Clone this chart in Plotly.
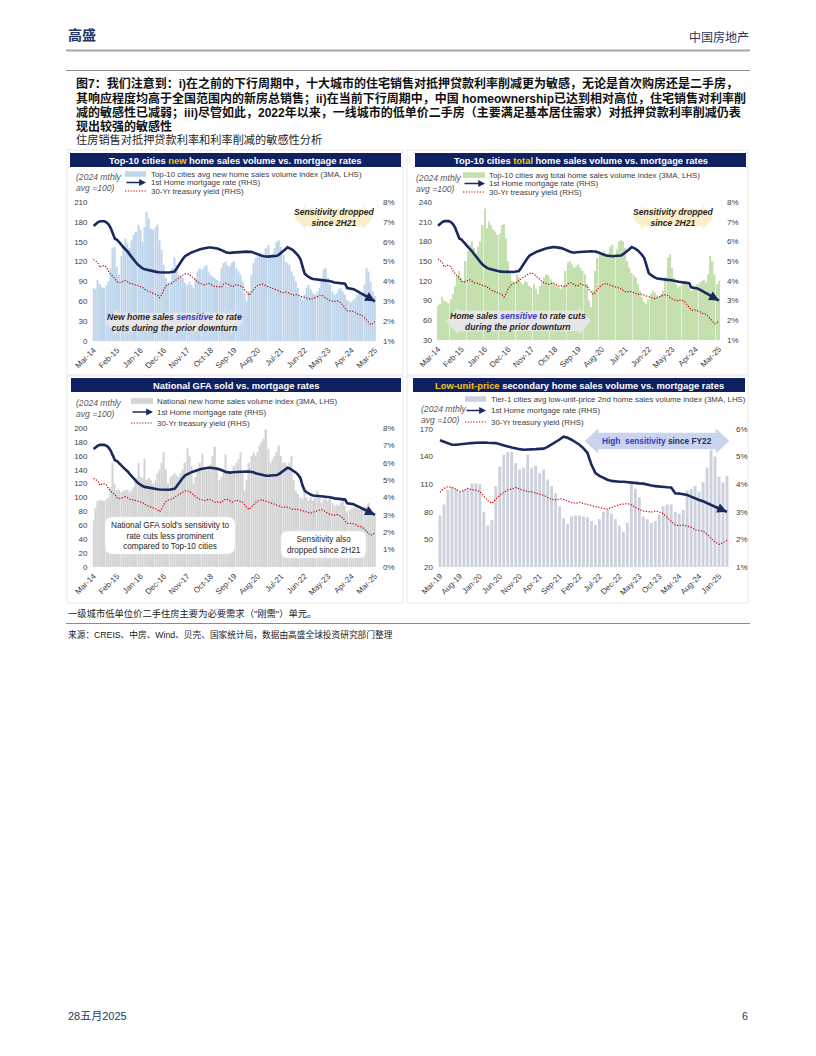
import plotly.graph_objects as go
import pandas as pd

# ---------------- DATA ----------------
months = pd.date_range("2014-03-01", "2025-03-01", freq="MS").strftime("%b-%y").tolist()  # Mar-14 .. Mar-25
lp_start = months.index("Mar-19")
months_lp = months[lp_start:]

tick_main = ["Mar-14", "Feb-15", "Jan-16", "Dec-16", "Nov-17", "Oct-18", "Sep-19",
             "Aug-20", "Jul-21", "Jun-22", "May-23", "Apr-24", "Mar-25"]
tick_lp = ["Mar-19", "Aug-19", "Jan-20", "Jun-20", "Nov-20", "Apr-21", "Sep-21", "Feb-22",
           "Jul-22", "Dec-22", "May-23", "Oct-23", "Mar-24", "Aug-24", "Jan-25"]

# 1st home mortgage rate (%), monthly Mar-14 .. Mar-25
mortgage_rate = [
    6.79, 6.90, 6.98, 7.03, 7.04, 7.03, 6.98, 6.88, 6.70, 6.45,
    6.15, 6.10, 6.00, 5.85, 5.72, 5.62, 5.50, 5.35, 5.20, 5.05, 4.94, 4.82,
    4.73, 4.66, 4.61, 4.58, 4.55, 4.52, 4.50, 4.48, 4.47, 4.46, 4.45, 4.44,
    4.44, 4.45, 4.46, 4.48, 4.50, 4.65, 4.83, 5.00, 5.15, 5.28, 5.35, 5.42,
    5.46, 5.50, 5.55, 5.59, 5.62, 5.65, 5.68, 5.70, 5.71, 5.71, 5.70, 5.69,
    5.66, 5.62, 5.59, 5.53, 5.47, 5.43, 5.43, 5.45, 5.46, 5.47, 5.49, 5.50,
    5.51, 5.51, 5.50, 5.49, 5.49, 5.45, 5.40, 5.37, 5.33, 5.29, 5.27, 5.25,
    5.25, 5.26, 5.27, 5.28, 5.29, 5.35, 5.43, 5.51, 5.62, 5.72, 5.68, 5.61,
    5.53, 5.43, 5.30, 5.13, 4.70, 4.40, 4.30, 4.22, 4.16, 4.12, 4.10, 4.09,
    4.09, 4.07, 4.05, 4.04, 4.03, 4.02, 3.98, 3.95, 3.93, 3.91, 3.90, 3.89,
    3.88, 3.67, 3.66, 3.63, 3.61, 3.55, 3.48, 3.43, 3.38, 3.31, 3.25, 3.18,
    3.11, 3.05, 3.00,
]

# 30-Yr treasury yield (%), monthly Mar-14 .. Mar-25
treasury_30y = [
    5.11, 5.02, 4.94, 4.70, 4.80, 4.78, 4.73, 4.50, 4.36, 4.25,
    4.15, 3.98, 3.94, 3.95, 4.02, 4.05, 3.98, 3.90, 3.89, 3.85, 3.82, 3.78,
    3.77, 3.70, 3.60, 3.52, 3.48, 3.45, 3.40, 3.35, 3.30, 3.18, 3.35, 3.60,
    3.77, 3.85, 3.89, 3.92, 4.02, 4.10, 4.18, 4.27, 4.32, 4.38, 4.39, 4.35,
    4.25, 4.15, 4.02, 3.95, 3.90, 3.85, 3.82, 3.86, 3.90, 3.85, 3.78, 3.72,
    3.75, 3.72, 3.71, 3.85, 3.91, 3.88, 3.82, 3.73, 3.77, 3.85, 3.80, 3.78,
    3.73, 3.55, 3.40, 3.31, 3.45, 3.60, 3.70, 3.79, 3.83, 3.88, 3.82, 3.78,
    3.73, 3.72, 3.68, 3.64, 3.60, 3.52, 3.45, 3.43, 3.47, 3.45, 3.40, 3.33,
    3.31, 3.34, 3.30, 3.26, 3.22, 3.18, 3.15, 3.12, 3.10, 3.15, 3.20, 3.26,
    3.28, 3.30, 3.25, 3.15, 3.08, 3.03, 3.00, 2.99, 3.03, 3.00, 2.93, 2.80,
    2.68, 2.52, 2.50, 2.52, 2.48, 2.44, 2.35, 2.33, 2.30, 2.18, 2.05, 1.90,
    1.82, 1.88, 1.97,
]

# Top-10 cities avg new home sales volume index (3MA, 2024 mthly avg = 100)
top10_new = [
    80, 78, 92, 86, 82, 80, 84, 90, 110, 140,
    142, 112, 100, 128, 145, 155, 148, 140, 152, 160, 165, 175,
    168, 150, 172, 195, 185, 170, 168, 172, 176, 152, 138, 115,
    95, 88, 90, 110, 126, 115, 100, 98, 95, 88, 85, 90,
    85, 80, 95, 105, 110, 108, 112, 115, 105, 100, 98, 95,
    92, 90, 110, 118, 120, 115, 112, 118, 120, 110, 105, 100,
    90, 72, 60, 75, 100, 118, 125, 128, 132, 128, 130, 140,
    145, 128, 132, 140, 150, 152, 142, 130, 120, 118, 115, 105,
    98, 90, 80, 68, 62, 70, 80, 85, 78, 72, 70, 75,
    80, 90, 108, 110, 95, 85, 75, 70, 72, 78, 80, 75,
    70, 62, 60, 58, 62, 65, 70, 72, 70, 85, 110, 105,
    90, 75, 68,
]

# Top-10 cities avg total home sales volume index (3MA)
top10_total = [
    82, 85, 96, 90, 88, 86, 92, 100, 112, 128,
    135, 125, 120, 150, 165, 175, 180, 170, 162, 172, 180, 205,
    230, 200, 210, 205, 198, 195, 190, 192, 205, 207, 185, 150,
    135, 120, 118, 130, 125, 118, 115, 120, 118, 112, 110, 115,
    108, 100, 112, 118, 125, 130, 128, 122, 118, 115, 112, 110,
    108, 112, 135, 148, 150, 145, 140, 142, 145, 140, 135, 130,
    115, 90, 80, 105, 135, 155, 160, 162, 165, 160, 162, 172,
    175, 160, 168, 180, 182, 180, 170, 150, 140, 132, 128, 125,
    115, 105, 95, 88, 85, 92, 100, 105, 102, 98, 95, 100,
    105, 125, 155, 160, 140, 125, 115, 110, 112, 118, 120, 118,
    112, 105, 108, 110, 115, 118, 120, 122, 118, 130, 158, 150,
    130, 115, 120,
]

# National new home sales volume index (3MA)
national_gfa = [
    67, 85, 95, 96, 96, 95, 98, 100, 115, 150,
    120, 110, 112, 108, 110, 110, 112, 108, 110, 115, 128, 150,
    130, 128, 156, 125, 128, 125, 120, 125, 135, 140, 150, 165,
    140, 120, 130, 132, 135, 132, 130, 135, 140, 150, 171, 160,
    145, 120, 130, 140, 150, 163, 140, 138, 145, 148, 160, 173,
    145, 125, 130, 138, 162, 140, 135, 138, 145, 150, 155, 165,
    135, 110, 125, 150, 160, 165, 160, 165, 175, 180, 185, 198,
    170, 150, 155, 160, 165, 175, 160, 150, 150, 140, 150, 160,
    125, 110, 105, 100, 98, 110, 100, 95, 100, 95, 100, 110,
    100, 92, 98, 100, 95, 98, 92, 88, 90, 88, 92, 96,
    88, 80, 82, 84, 85, 88, 84, 82, 85, 86, 88, 92,
    85, 80, 78,
]

# Tier-1 cities avg low-unit-price 2nd home sales volume index (3MA), Mar-19 .. Mar-25
tier1_lowprice = [
    76, 88, 104, 107, 105, 102, 104, 106, 111, 111, 110, 80, 65, 71,
    108, 129, 142, 145, 145, 133, 126, 128, 142, 128, 130, 122, 126, 115,
    108, 100, 86, 73, 67, 75, 76, 76, 75, 74, 70, 66, 72, 80,
    82, 78, 72, 65, 58, 68, 113, 105, 96, 75, 72, 68, 70, 77,
    86, 88, 88, 80, 78, 82, 103, 105, 108, 102, 112, 128, 147, 140,
    118, 112, 119,
]

# ---------------- STYLE ----------------
W, H = 816, 1056
FONT = "Liberation Sans, Arial, Noto Sans CJK SC, sans-serif"
CJK = "Liberation Sans, Noto Sans CJK SC, sans-serif"
NAVY = "#1B2A5E"
HEAD = "#1F3864"
TITLE_BG = "#0F2160"
GOLD = "#F5C518"
RED = "#C00000"
TICK = "#404040"
DOT = "1.2px,1.6px"
BAR_COLORS = {"new": "#BED5EC", "total": "#C4E0AE", "gfa": "#D4D4D4", "lp": "#CCD1DC"}


def X(x):
    return x / W


def Y(y):
    return 1 - y / H


def P(x, y):
    return f"{X(x):.5f},{Y(y):.5f}"


def txt(x, y, text, size=8, color=TICK, xanchor="left", yanchor="middle", family=FONT, align="left"):
    return dict(x=X(x), y=Y(y), xref="paper", yref="paper", text=text, showarrow=False,
                font=dict(size=size, color=color, family=family), xanchor=xanchor,
                yanchor=yanchor, align=align, borderpad=0)


def rect(x0, y0, x1, y1, fill, line_color=None, lw=0):
    return dict(type="rect", xref="paper", yref="paper", x0=X(x0), x1=X(x1), y0=Y(y0), y1=Y(y1),
                fillcolor=fill, line=dict(color=line_color or fill, width=lw), layer="above")


def hline(x0, x1, y, color, width=1, dash="solid"):
    return dict(type="line", xref="paper", yref="paper", x0=X(x0), x1=X(x1), y0=Y(y), y1=Y(y),
                line=dict(color=color, width=width, dash=dash), layer="above")


def dbl_arrow(x0, x1, y0, y1, head, inset, fill):
    ym = (y0 + y1) / 2
    pts = [(x0, ym), (x0 + head, y0), (x0 + head, y0 + inset), (x1 - head, y0 + inset),
           (x1 - head, y0), (x1, ym), (x1 - head, y1), (x1 - head, y1 - inset),
           (x0 + head, y1 - inset), (x0 + head, y1)]
    path = "M " + " L ".join(P(*p) for p in pts) + " Z"
    return dict(type="path", xref="paper", yref="paper", path=path, fillcolor=fill,
                line=dict(color=fill, width=0.5), layer="above")


def rrect(x0, y0, x1, y1, r, fill):
    path = (f"M {P(x0 + r, y0)} L {P(x1 - r, y0)} Q {P(x1, y0)} {P(x1, y0 + r)} "
            f"L {P(x1, y1 - r)} Q {P(x1, y1)} {P(x1 - r, y1)} L {P(x0 + r, y1)} "
            f"Q {P(x0, y1)} {P(x0, y1 - r)} L {P(x0, y0 + r)} Q {P(x0, y0)} {P(x0 + r, y0)} Z")
    return dict(type="path", xref="paper", yref="paper", path=path, fillcolor=fill,
                line=dict(color="#EDEDED", width=0.6), layer="above")


fig = go.Figure()
shapes, annots = [], []

panels = [
    dict(key="new", x=months, bars=top10_new, m=mortgage_rate, t=treasury_30y,
         xd=(92.5, 376), yd=(202, 341), lr=(0, 210), ldt=30, rr=(1, 8), ticks=tick_main),
    dict(key="total", x=months, bars=top10_total, m=mortgage_rate, t=treasury_30y,
         xd=(437, 720), yd=(202, 340), lr=(30, 240), ldt=30, rr=(1, 8), ticks=tick_main),
    dict(key="gfa", x=months, bars=national_gfa, m=mortgage_rate, t=treasury_30y,
         xd=(92.5, 376), yd=(428, 567), lr=(0, 200), ldt=20, rr=(0, 8), ticks=tick_main),
    dict(key="lp", x=months_lp, bars=tier1_lowprice, m=mortgage_rate[lp_start:], t=treasury_30y[lp_start:],
         xd=(438, 729), yd=(429, 567), lr=(20, 170), ldt=30, rr=(1, 6), ticks=tick_lp),
]

layout_axes = {}
for k, p in enumerate(panels):
    xi = "" if k == 0 else str(k + 1)
    yl = 2 * k + 1
    yr = 2 * k + 2
    yl_id = "y" if yl == 1 else f"y{yl}"
    yr_id = f"y{yr}"
    x_id = "x" + xi
    fig.add_trace(go.Bar(x=p["x"], y=p["bars"], marker=dict(color=BAR_COLORS[p["key"]], line_width=0),
                         xaxis=x_id, yaxis=yl_id, hoverinfo="skip"))
    fig.add_trace(go.Scatter(x=p["x"], y=p["t"], mode="lines",
                             line=dict(color=RED, width=1.2, dash=DOT),
                             xaxis=x_id, yaxis=yr_id, hoverinfo="skip"))
    fig.add_trace(go.Scatter(x=p["x"], y=p["m"], mode="lines",
                             line=dict(color=NAVY, width=2.6),
                             xaxis=x_id, yaxis=yr_id, hoverinfo="skip"))
    n = len(p["x"])
    tickfont = dict(size=8, color=TICK, family=FONT)
    layout_axes["xaxis" + xi] = dict(
        domain=[X(p["xd"][0]), X(p["xd"][1])], anchor=yl_id, type="category",
        range=[-0.5, n - 0.5], tickmode="array", tickvals=p["ticks"], ticktext=p["ticks"],
        tickangle=-45, tickfont=tickfont, showgrid=False, showline=False, zeroline=False,
        ticks="", ticklabelstandoff=2, automargin=False)
    layout_axes["yaxis" + ("" if yl == 1 else str(yl))] = dict(
        domain=[Y(p["yd"][1]), Y(p["yd"][0])], anchor=x_id, range=list(p["lr"]),
        tick0=p["lr"][0], dtick=p["ldt"], tickfont=tickfont, showgrid=False, zeroline=False,
        showline=False, ticks="", ticklabelstandoff=4, automargin=False)
    layout_axes["yaxis" + str(yr)] = dict(
        overlaying=yl_id, side="right", anchor=x_id, range=list(p["rr"]), tick0=p["rr"][0],
        dtick=1, ticksuffix="%", tickfont=tickfont, showgrid=False, zeroline=False,
        showline=False, ticks="", ticklabelstandoff=6, automargin=False)
    annots.append(dict(x=n - 1, y=p["m"][-1], ax=n - 4, ay=p["m"][-4], xref=x_id, yref=yr_id,
                       axref=x_id, ayref=yr_id, showarrow=True, arrowhead=2, arrowsize=0.75,
                       arrowwidth=2.6, arrowcolor=NAVY, text="", standoff=0))

# ---------------- PAGE FURNITURE ----------------
annots.append(txt(67, 35.5, "<b>高盛</b>", size=14, color=HEAD, family=CJK))
annots.append(txt(750, 37, "中国房地产", size=12, color=HEAD, xanchor="right", family=CJK))
shapes.append(hline(66, 750, 50.5, "#A6A6A6", 2))
shapes.append(hline(66, 750, 70.5, "#8C8C8C", 1))

cap = [
    "图7：我们注意到：i)在之前的下行周期中，十大城市的住宅销售对抵押贷款利率削减更为敏感，无论是首次购房还是二手房，",
    "其响应程度均高于全国范围内的新房总销售；ii)在当前下行周期中，中国 homeownership已达到相对高位，住宅销售对利率削",
    "减的敏感性已减弱；iii)尽管如此，2022年以来，一线城市的低单价二手房（主要满足基本居住需求）对抵押贷款利率削减仍表",
    "现出较强的敏感性",
]
for line, yy in zip(cap, [83, 98.5, 112.5, 126.5]):
    annots.append(txt(75, yy, f"<b>{line}</b>", size=12, color="#111111", family=CJK))
annots.append(txt(75, 139.5, "住房销售对抵押贷款利率和利率削减的敏感性分析", size=11.2, color="#262626", family=CJK))

# panel frames
for (x0, y0, x1, y1) in [(67, 150, 403, 375), (407, 150, 748, 375), (67, 376, 403, 603), (407, 376, 748, 603)]:
    shapes.append(dict(type="rect", xref="paper", yref="paper", x0=X(x0), x1=X(x1), y0=Y(y0), y1=Y(y1),
                       fillcolor="rgba(0,0,0,0)", line=dict(color="#E3E3E3", width=0.8), layer="below"))

# title bars
titles = [
    (70, 401, 153, 167, f"<b>Top-10 cities <span style='color:{GOLD}'>new</span> home sales volume vs. mortgage rates</b>"),
    (415, 746, 153, 167, f"<b>Top-10 cities <span style='color:{GOLD}'>total</span> home sales volume vs. mortgage rates</b>"),
    (71, 401, 378, 392, "<b>National GFA sold vs. mortgage rates</b>"),
    (413, 745, 378, 392, f"<b><span style='color:{GOLD}'>Low-unit-price</span> secondary home sales volume vs. mortgage rates</b>"),
]
for x0, x1, y0, y1, t in titles:
    shapes.append(rect(x0, y0, x1, y1, TITLE_BG))
    annots.append(txt((x0 + x1) / 2, (y0 + y1) / 2 + 0.3, t, size=9.4, color="white", xanchor="center"))

# legends
legends = [
    dict(sx=(125, 146), rows=(174, 182.5, 191), tx=150, color=BAR_COLORS["new"], note=(75, 182.5),
         lab="Top-10 cities avg new home sales volume index (3MA, LHS)"),
    dict(sx=(463, 485), rows=(175, 183.5, 192), tx=488, color=BAR_COLORS["total"], note=(415, 183),
         lab="Top-10 cities avg total home sales volume index (3MA, LHS)"),
    dict(sx=(131, 153), rows=(401, 412, 423), tx=156, color=BAR_COLORS["gfa"], note=(75, 408),
         lab="National new home sales volume index (3MA, LHS)"),
    dict(sx=(465, 486), rows=(399, 410.5, 422), tx=490, color=BAR_COLORS["lp"], note=(420, 414),
         lab="Tier-1 cities avg low-unit-price 2nd home sales volume index (3MA, LHS)"),
]
LFS = 7.9
for lg in legends:
    sx0, sx1 = lg["sx"]
    r0, r1, r2 = lg["rows"]
    shapes.append(rect(sx0, r0 - 2.8, sx1, r0 + 2.8, lg["color"]))
    annots.append(dict(x=X(sx1), y=Y(r1), xref="paper", yref="paper", ax=-(sx1 - sx0), ay=0,
                       axref="pixel", ayref="pixel", showarrow=True, arrowhead=2, arrowsize=0.8,
                       arrowwidth=1.7, arrowcolor=NAVY, text="", standoff=0))
    shapes.append(hline(sx0, sx1, r2, RED, 1.1, DOT))
    annots.append(txt(lg["tx"], r0, lg["lab"], size=LFS, color=TICK))
    annots.append(txt(lg["tx"], r1, "1st Home mortgage rate (RHS)", size=LFS, color=TICK))
    annots.append(txt(lg["tx"], r2, "30-Yr treasury yield (RHS)", size=LFS, color=TICK))
    annots.append(txt(lg["note"][0], lg["note"][1], "<i>(2024 mthly<br>avg =100)</i>", size=8.6,
                      color="#595959"))

# call-out arrows and boxes
SENS = "#3535C8"
shapes.append(dbl_arrow(295, 373, 206, 229, 10, 3, "#FBEFC9"))
annots.append(txt(334, 217, "<b><i>Sensitivity dropped<br>since 2H21</i></b>", size=8.6, color="#262626",
                  xanchor="center", align="center"))
shapes.append(dbl_arrow(633, 713, 206, 229, 10, 3, "#FBEFC9"))
annots.append(txt(673, 217, "<b><i>Sensitivity dropped<br>since 2H21</i></b>", size=8.6, color="#262626",
                  xanchor="center", align="center"))
shapes.append(dbl_arrow(105, 243, 310, 334, 12, 3, "#E6E6E6"))
annots.append(txt(174, 322, f"<b><i>New home sales <span style='color:{SENS}'>sensitive</span> to rate<br>"
                            "cuts during the prior downturn</i></b>", size=8.6, color="#262626",
                  xanchor="center", align="center"))
shapes.append(dbl_arrow(446, 591, 308, 334, 12, 3, "#E6E6E6"))
annots.append(txt(518, 321, f"<b><i>Home sales <span style='color:{SENS}'>sensitive</span> to rate cuts<br>"
                            "during the prior downturn</i></b>", size=8.6, color="#262626",
                  xanchor="center", align="center"))
shapes.append(rrect(105, 517, 235, 554, 8, "white"))
annots.append(txt(170, 535.5, "National GFA sold's sensitivity to<br>rate cuts less prominent<br>compared to Top-10 cities",
                  size=8.2, color="#262626", xanchor="center", align="center"))
shapes.append(rrect(281, 531, 366, 558, 7, "white"))
annots.append(txt(323.5, 544.5, "Sensitivity also<br>dropped since 2H21", size=8.2, color="#262626",
                  xanchor="center", align="center"))
shapes.append(dbl_arrow(585, 729, 429, 453, 13, 4, "#CBD4EE"))
annots.append(txt(657, 441, "<b><span style='color:#2F3BC0'>High  sensitivity</span> since FY22</b>",
                  size=8.3, color="#1F2D5C", xanchor="center"))

# notes and footer
annots.append(txt(67, 613, "一级城市低单位价二手住房主要为必要需求（\"刚需\"）单元。", size=9.3, color="#1a1a1a", family=CJK))
shapes.append(hline(66, 750, 623.5, "#8C8C8C", 1))
annots.append(txt(67, 634.5, "来源：CREIS、中房、Wind、贝壳、国家统计局，数据由高盛全球投资研究部门整理", size=8.7,
                  color="#1a1a1a", family=CJK))
annots.append(txt(67, 1016, "28五月2025", size=11, color=HEAD, family=CJK))
annots.append(txt(749, 1016, "6", size=10.5, color=HEAD, xanchor="right"))

fig.update_layout(
    template="none",
    width=W, height=H, margin=dict(l=0, r=0, t=0, b=0, pad=0, autoexpand=False), autosize=False,
    paper_bgcolor="white", plot_bgcolor="white", showlegend=False, bargap=0.28,
    font=dict(family=FONT, size=8, color=TICK), shapes=shapes, annotations=annots,
    **layout_axes,
)

fig.write_html("out.html", config={"displayModeBar": False},
               post_script="document.body.style.margin='0';")
